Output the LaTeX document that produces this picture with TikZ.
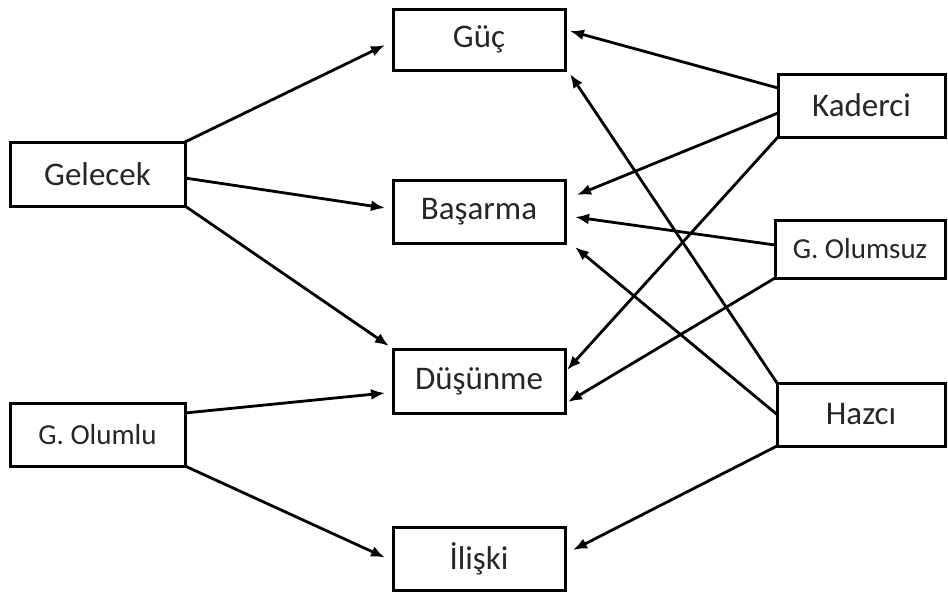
\documentclass[tikz,border=0pt]{standalone}
\usepackage{fontspec}
\setmainfont{Carlito}
\usetikzlibrary{arrows.meta,calc}

\tikzset{
  box/.style={draw, line width=3pt, rectangle, inner sep=0pt, outer sep=0pt,
              text=black!85, font=\fontsize{33}{40}\selectfont},
  smallbox/.style={box, font=\fontsize{29}{35}\selectfont},
  link/.style={line width=2.8pt, -{Latex[length=14pt,width=11pt]}},
}

\begin{document}
\begin{tikzpicture}[x=1pt, y=-1pt]
  \useasboundingbox (0,0) rectangle (948,597);

  % left column
  \node[box, minimum width=175pt, minimum height=64pt] (gel) at (97.5,174) {Gelecek};
  \node[smallbox, minimum width=175pt, minimum height=63pt] (olu) at (97.5,434.5) {G. Olumlu};

  % middle column
  \node[box, minimum width=172pt, minimum height=61pt] (guc) at (479,39.5) {Güç};
  \node[box, minimum width=172pt, minimum height=63pt] (bas) at (479,211.5) {Başarma};
  \node[box, minimum width=172pt, minimum height=64pt] (dus) at (479,381) {Düşünme};
  \node[box, minimum width=172pt, minimum height=63pt] (ili) at (479,558.5) {İlişki};

  % right column
  \node[box, minimum width=167pt, minimum height=63pt] (kad) at (861.5,105.5) {Kaderci};
  \node[smallbox, minimum width=170pt, minimum height=58pt] (olz) at (860,249) {G. Olumsuz};
  \node[box, minimum width=168pt, minimum height=63pt] (haz) at (861,414.5) {Hazcı};

  % links from the left column
  \draw[link] (gel.north east) -- ($(guc.west)+(-8,5.5)$);
  \draw[link] ($(gel.east)+(0,4)$) -- ($(bas.west)+(-8,-3.5)$);
  \draw[link] (gel.south east) -- ($(dus.north west)+(-4,-3)$);
  \draw[link] ($(olu.east)+(0,-21.5)$) -- ($(dus.west)+(-8,12)$);
  \draw[link] (olu.south east) -- ($(ili.west)+(-8,-1)$);

  % links from the right column
  \draw[link] ($(kad.west)+(0,-17.5)$) -- ($(guc.east)+(5,-8.5)$);
  \draw[link] ($(kad.west)+(0,7.5)$) -- ($(bas.east)+(12,-16.5)$);
  \draw[link] (kad.south west) -- ($(dus.east)+(2,-11)$);
  \draw[link] ($(olz.west)+(0,-4)$) -- ($(bas.east)+(10,5.5)$);
  \draw[link] (olz.south west) -- ($(dus.east)+(3,21)$);
  \draw[link] (haz.north west) -- ($(guc.south east)+(5,4)$);
  \draw[link] (haz.west) -- ($(bas.south east)+(10,4)$);
  \draw[link] (haz.south west) -- ($(ili.east)+(8,-8.5)$);
\end{tikzpicture}
\end{document}
